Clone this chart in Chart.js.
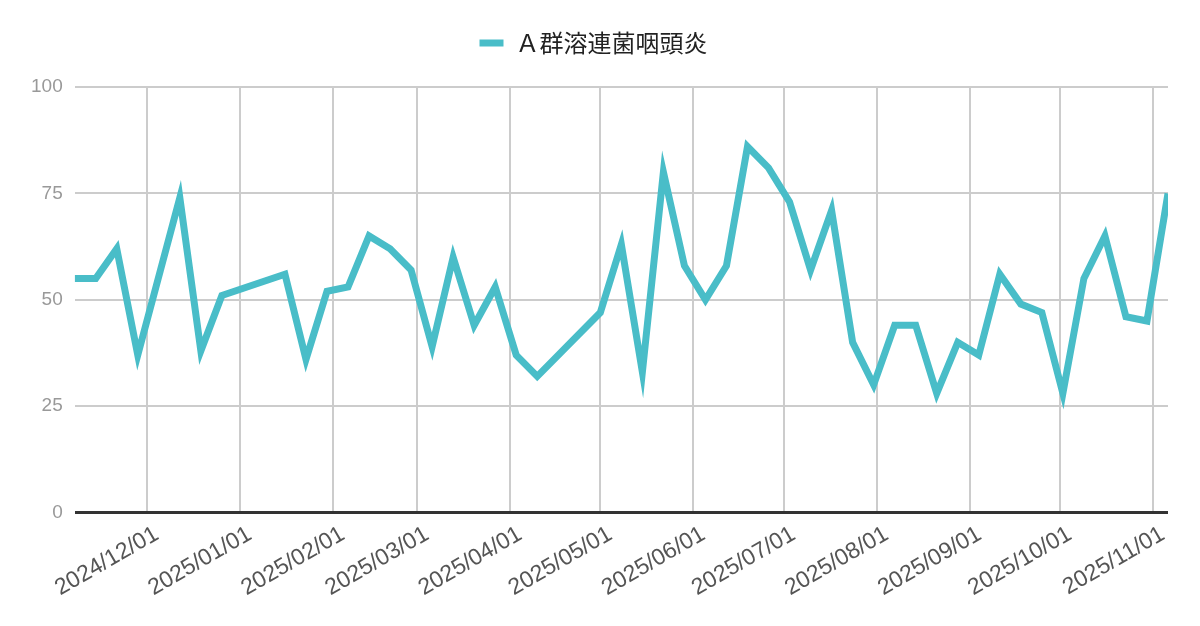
<!DOCTYPE html>
<html lang="ja">
<head>
<meta charset="utf-8">
<title>A群溶連菌咽頭炎</title>
<script src="https://cdn.jsdelivr.net/npm/chart.js@4.4.1/dist/chart.umd.min.js"></script>
<style>
  html, body { margin: 0; padding: 0; background: #fff; }
  #wrap { width: 1200px; height: 626px; position: relative; }
</style>
</head>
<body>
<div id="wrap"><canvas id="strepChart"></canvas></div>
<script>
const seriesName = 'Ａ群溶連菌咽頭炎';

// weekly report dates (weeks with no point are simply left out)
const weeks = [
  '2024-11-07', '2024-11-14', '2024-11-21', '2024-11-28', '2024-12-12', '2024-12-19', '2024-12-26',
  '2025-01-16', '2025-01-23', '2025-01-30', '2025-02-06', '2025-02-13', '2025-02-20', '2025-02-27',
  '2025-03-06', '2025-03-13', '2025-03-20', '2025-03-27', '2025-04-03', '2025-04-10', '2025-05-01',
  '2025-05-08', '2025-05-15', '2025-05-22', '2025-05-29', '2025-06-05', '2025-06-12', '2025-06-19',
  '2025-06-26', '2025-07-03', '2025-07-10', '2025-07-17', '2025-07-24', '2025-07-31', '2025-08-07',
  '2025-08-14', '2025-08-21', '2025-08-28', '2025-09-04', '2025-09-11', '2025-09-18', '2025-09-25',
  '2025-10-02', '2025-10-09', '2025-10-16', '2025-10-23', '2025-10-30', '2025-11-06'
];
const reports = [
  55, 55, 62, 37, 74, 38, 51,
  56, 36, 52, 53, 65, 62, 57,
  39, 60, 44, 53, 37, 32, 47,
  63, 33, 80, 58, 50, 58, 86,
  81, 73, 57, 71, 40, 30, 44,
  44, 28, 40, 37, 56, 49, 47,
  28, 55, 65, 46, 45, 75
];

const monthTicks = [
  '2024-12-01', '2025-01-01', '2025-02-01', '2025-03-01', '2025-04-01', '2025-05-01',
  '2025-06-01', '2025-07-01', '2025-08-01', '2025-09-01', '2025-10-01', '2025-11-01'
];
const yTicks = [0, 25, 50, 75, 100];

const lineColor = '#49bdc8';
const DAY = 86400000;
const toDay = s => Date.parse(s) / DAY;
const fmtDay = d => {
  const dt = new Date(d * DAY);
  const mm = String(dt.getUTCMonth() + 1).padStart(2, '0');
  const dd = String(dt.getUTCDate()).padStart(2, '0');
  return dt.getUTCFullYear() + '/' + mm + '/' + dd;
};

// push the plot down a bit below the legend
const legendGap = {
  id: 'legendGap',
  beforeInit(chart) {
    const fit = chart.legend.fit;
    chart.legend.fit = function () {
      fit.bind(chart.legend)();
      this.height += 22;
    };
  }
};

const ctx = document.getElementById('strepChart').getContext('2d');
new Chart(ctx, {
  type: 'line',
  data: {
    datasets: [{
      label: seriesName,
      data: reports.map((v, i) => ({ x: toDay(weeks[i]), y: v })),
      borderColor: lineColor,
      backgroundColor: lineColor,
      borderWidth: 7,
      pointRadius: 0,
      tension: 0,
      fill: false
    }]
  },
  options: {
    responsive: true,
    maintainAspectRatio: false,
    animation: false,
    layout: { padding: { top: 21, left: 19, right: 32, bottom: 16 } },
    scales: {
      x: {
        type: 'linear',
        min: toDay(weeks[0]),
        max: toDay(weeks[weeks.length - 1]),
        afterBuildTicks: scale => {
          scale.ticks = monthTicks.map(m => ({ value: toDay(m) }));
        },
        ticks: {
          autoSkip: false,
          minRotation: 30,
          maxRotation: 30,
          padding: 8,
          labelOffset: 10,
          color: '#555555',
          font: { family: '"Liberation Sans", Arial, sans-serif', size: 23 },
          callback: v => fmtDay(v)
        },
        grid: { color: '#cccccc', lineWidth: 2, drawTicks: false },
        border: { display: false }
      },
      y: {
        min: 0,
        max: 100,
        afterBuildTicks: scale => {
          scale.ticks = yTicks.map(v => ({ value: v }));
        },
        ticks: {
          padding: 12,
          color: '#999999',
          font: { family: '"Liberation Sans", Arial, sans-serif', size: 19 }
        },
        grid: {
          drawTicks: false,
          color: c => (c.tick && c.tick.value === 0 ? '#333333' : '#cccccc'),
          lineWidth: c => (c.tick && c.tick.value === 0 ? 3 : 2)
        },
        border: { display: false }
      }
    },
    plugins: {
      legend: {
        position: 'top',
        labels: {
          boxWidth: 24,
          boxHeight: 7,
          padding: 10,
          color: '#222222',
          font: { family: '"Noto Sans CJK JP", "Noto Sans", sans-serif', size: 24 },
          generateLabels: chart => {
            const items = Chart.defaults.plugins.legend.labels.generateLabels(chart);
            items.forEach(it => { it.lineWidth = 0; it.fillStyle = lineColor; });
            return items;
          }
        }
      },
      tooltip: { enabled: false }
    }
  },
  plugins: [legendGap]
});
</script>
</body>
</html>
